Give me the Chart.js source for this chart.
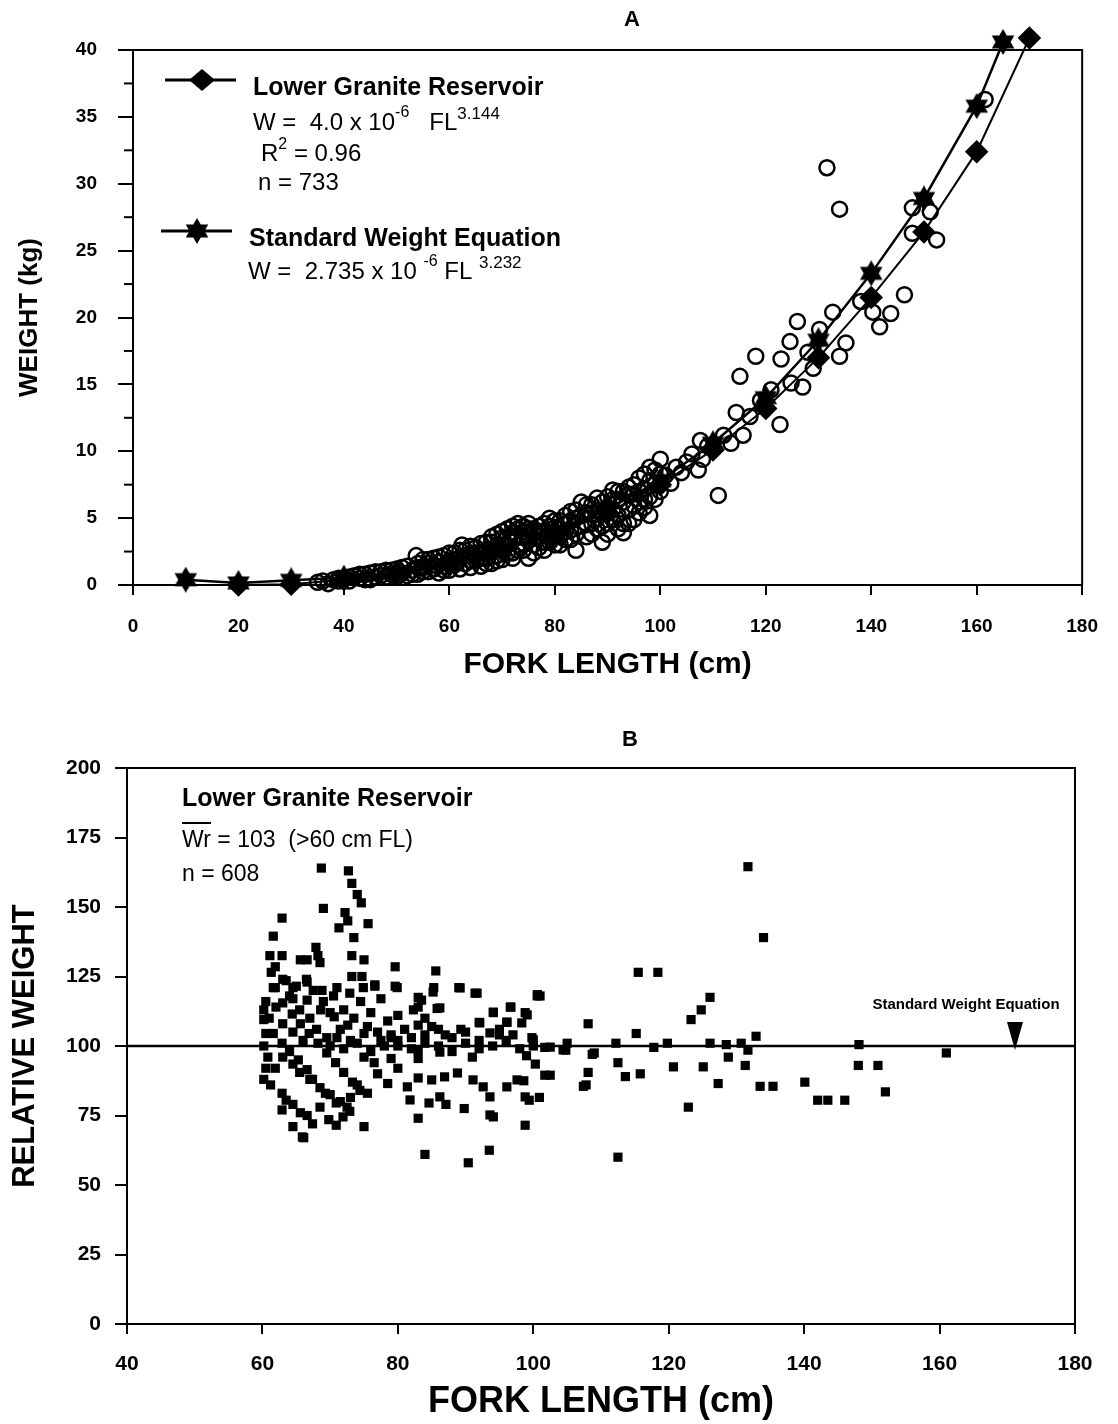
<!DOCTYPE html>
<html>
<head>
<meta charset="utf-8">
<script src="https://cdn.jsdelivr.net/npm/chart.js@4.4.0/dist/chart.umd.min.js"></script>
<style>
  body { margin: 0; background: #fff; width: 1118px; height: 1424px; overflow: hidden; position: relative; }
  canvas { position: absolute; left: 0; }
  #chartA { top: 0; }
  #chartB { top: 700px; }
</style>
</head>
<body>
<canvas id="chartA" width="1118" height="700"></canvas>
<canvas id="chartB" width="1118" height="724"></canvas>
<script>
const FONT = '"Liberation Sans", Arial, Helvetica, sans-serif';

// ---- Panel A: weight vs fork length ----
// Lower Granite Reservoir regression (diamonds)
const lgrFL = [20, 30, 40, 50, 60, 70, 80, 90, 100, 110, 120, 130, 140, 150, 160, 170];
const lgrW  = [0, 0.05, 0.4, 0.85, 1.6, 2.6, 3.8, 5.4, 7.5, 10.1, 13.2, 17.0, 21.5, 26.4, 32.4, 40.9];

// Standard weight equation (stars)
const swFL = [10, 20, 30, 40, 50, 60, 70, 80, 90, 100, 110, 120, 130, 140, 150, 160, 165];
const swW  = [0.4, 0.15, 0.35, 0.55, 0.9, 1.5, 2.6, 3.9, 5.7, 7.8, 10.6, 14.0, 18.3, 23.3, 28.9, 35.8, 40.6];

// observed fish (open circles)
const obsFL = [
  35, 37, 38, 39, 40, 41, 42, 43, 44, 45,
  45, 46, 47, 48, 48, 49, 50, 50, 51, 52,
  52, 53, 53.7, 54, 54, 55, 55, 56, 56, 57,
  57, 58, 58, 59, 59, 60, 60, 61, 61, 62,
  62.4, 63, 63, 64, 64, 65, 65, 66, 66, 67,
  67, 68, 68, 68, 69, 69, 70, 70, 70, 71,
  71, 72, 72, 72, 73, 73, 74, 74, 74, 75,
  75, 75, 76, 76, 77, 77, 78, 78, 79, 79,
  80, 80, 81, 81, 82, 82, 83, 83, 84, 84,
  85, 85, 86, 86, 87, 87, 88, 88, 89, 89,
  90, 90, 91, 91, 92, 92, 93, 93, 94, 94,
  95, 95, 96, 96, 97, 97, 98, 98, 99, 99,
  100, 100, 101, 102, 103, 104, 105, 106, 107.2, 107.6,
  108, 109, 110, 111, 112, 113.4, 114.4, 115.7, 115.1, 117,
  118.1, 119, 121, 122.7, 122.9, 124.6, 124.8, 126, 127, 128,
  129, 130.2, 131.6, 132.7, 134, 134, 135.2, 138, 140.3, 141.6,
  143.7, 146.3, 147.8, 147.8, 151.2, 152.4, 161.6,
  36, 39, 41, 43, 44, 46, 47, 49, 51, 53,
  54, 55, 56, 57, 58, 59, 60, 61, 62, 62,
  63, 64, 64, 65, 66, 66, 67, 67, 68, 69,
  69, 70, 70, 71, 71, 72, 72, 73, 73, 74,
  74, 75, 75, 76, 76, 77, 77, 78, 78, 79,
  79, 80, 80, 81, 81, 82, 82, 83, 83, 84,
  84, 85, 86, 86, 87, 87, 88, 88, 89, 89,
  90, 90, 91, 91, 92, 92, 93, 93, 94, 94,
  95, 95, 96, 96, 97, 97, 98, 98, 99, 100
];
const obsW = [
  0.2, 0.1, 0.4, 0.3, 0.5, 0.3, 0.7, 0.5, 0.8, 0.4,
  0.9, 0.6, 1.0, 0.6, 1.1, 0.8, 1.2, 0.6, 0.9, 1.4,
  0.7, 1.1, 2.2, 1.6, 0.8, 1.3, 1.9, 1.0, 1.6, 2.0,
  1.2, 1.7, 0.9, 2.2, 1.4, 1.8, 1.1, 2.4, 1.5, 2.0,
  3.0, 1.6, 2.6, 2.2, 1.3, 2.8, 1.8, 2.4, 1.4, 3.2,
  2.0, 3.6, 2.6, 1.6, 3.0, 2.2, 3.5, 2.6, 1.9, 4.2,
  3.0, 4.4, 3.4, 2.4, 4.6, 3.0, 4.4, 3.6, 2.6, 4.6,
  3.3, 2.0, 4.2, 3.0, 4.4, 3.6, 4.6, 3.2, 5.0, 3.8,
  4.3, 3.0, 4.8, 3.6, 5.2, 4.0, 5.5, 3.4, 5.0, 2.6,
  6.2, 4.4, 5.4, 3.6, 6.0, 4.6, 6.5, 5.0, 5.4, 3.2,
  6.6, 4.6, 7.1, 5.6, 6.4, 4.2, 7.0, 3.9, 7.3, 5.6,
  6.8, 4.9, 8.0, 6.2, 7.2, 5.8, 7.8, 5.2, 8.6, 6.4,
  9.4, 7.0, 8.2, 7.6, 8.8, 8.4, 9.2, 9.8, 8.6, 10.8,
  9.4, 10.4, 10.2, 6.7, 11.2, 10.6, 12.9, 11.2, 15.6, 12.6,
  17.1, 13.8, 14.6, 12.0, 16.9, 18.2, 15.1, 19.7, 14.8, 17.4,
  16.2, 19.1, 31.2, 20.4, 17.1, 28.1, 18.1, 21.2, 20.4, 19.3,
  20.3, 21.7, 28.2, 26.3, 27.9, 25.8, 36.3,
  0.3, 0.5, 0.6, 0.8, 0.4, 1.0, 0.7, 1.1, 1.3, 0.8,
  1.3, 1.0, 1.9, 1.5, 2.1, 1.1, 2.4, 1.9, 1.2, 2.6,
  2.2, 2.9, 1.8, 2.4, 3.1, 2.0, 2.6, 1.6, 3.2, 3.8,
  1.8, 4.0, 3.0, 2.4, 3.6, 3.9, 2.0, 4.2, 2.6, 4.0,
  3.1, 4.2, 3.7, 3.5, 2.4, 4.0, 2.8, 4.0, 2.6, 4.4,
  3.2, 4.8, 3.6, 4.2, 3.0, 4.6, 3.4, 4.8, 4.1, 5.6,
  3.8, 5.2, 6.0, 4.5, 5.3, 3.8, 5.6, 4.2, 6.2, 4.4,
  5.8, 3.8, 6.4, 4.9, 7.0, 5.2, 6.2, 4.6, 6.8, 4.6,
  7.5, 5.9, 7.0, 5.4, 8.3, 6.4, 8.8, 6.6, 7.6, 8.3
];

// ---- Panel B: relative weight vs fork length ----
const relFL = [
  // high values
  68.7, 72.7, 73.2, 74, 74.6, 69, 72.2, 72.6, 75.6, 71.3,
  62.9, 61.6, 73.5, 61.1, 62.9, 65.6, 66.6, 67.9, 68.2, 68.5,
  73.2, 75, 79.6, 85.6, 61.3, 61.9, 73.2, 74.7, 76.6, 79.6,
  85.3, 89, 91.4, 100.6, 96.7, 94.1, 98.8, 96.1, 83, 83,
  85.8, 89.3, 92, 99.8, 61.9, 63.5, 60.2, 60.2, 60.5, 64.5,
  65, 66.5,
  // larger fish
  131.7, 134, 115.5, 118.4, 101, 126.1, 124.8, 123.3, 108.1, 115.2,
  132.9, 112.2, 119.8, 126.1, 128.5, 130.7, 148.1, 104.8, 109, 117.8,
  161, 131.7, 128.8, 101.7, 108.7, 101.7, 108.1, 107.4, 112.5, 113.6,
  115.8, 120.7, 125.1, 127.3, 131.3, 133.5, 135.4, 140.1, 148, 150.9,
  152, 142, 143.5, 146, 122.9, 112.5, 105,
  // low values
  60.2, 61.9, 62.9, 63.5, 62.9, 64.5, 65.6, 64.5, 66.1, 66.6,
  69.8, 70.9, 71.9, 72.9, 75, 69.3, 70.9, 73, 83, 84,
  84.6, 87.1, 89.8, 90.4, 93.5, 94.1, 98.8, 99.4, 100.9, 98.6,
  100.3, 102.5, 107.8, 81.4, 83, 85, 86.9, 88.8, 81.8, 86.2,
  91.1, 92.6, 93.6, 96.1, 97.6, 98.8, 93.6, 65.9, 60.5, 61.2,
  67.4, 68.5, 63, 64.5, 65.5, 67, 68.5, 70, 71.5, 72.5,
  74, 75.5, 77, 78.5, 80, 76.5, 79,
  // dense band
  61.6, 63, 64.5, 66.6, 68.8, 71, 72.9, 74.9, 76.6, 79.9,
  85.2, 89.2, 91.7, 100.6, 83.5, 86.2, 63, 64.4, 65.6, 66.9,
  68.2, 69.5, 70.8, 72, 73.3, 74.4, 61.6, 62.9, 64, 65.3,
  66.6, 67.4, 66.6, 68.6, 70.6, 72.6, 75, 77.5, 80, 83,
  86.2, 70, 72, 74, 76, 78, 80, 82, 84, 86,
  88, 90, 92, 94, 96, 98, 100, 71, 75, 79,
  83, 87, 91, 95, 99, 96.6, 94.1, 92.1, 93.6, 96.1,
  99.1, 98.3, 100, 102.5, 104.4, 82.3, 84, 85, 83, 60.5,
  61, 62, 63, 64, 64.5, 65.5, 66, 67, 67.5, 68,
  69, 69.5, 70, 70.5, 71.5, 72, 73, 73.5, 74.5, 75.5,
  76, 77, 77.5, 78.5, 79, 80, 81, 82, 84, 86,
  88, 90, 92, 95, 97, 60.2, 60.8
];
const relW = [
  164, 163, 158.5, 154.5, 151.5, 149.5, 148, 145, 144, 142.5,
  146, 139.5, 139, 132.5, 132.5, 131, 131, 135.5, 132.5, 130,
  132.5, 131, 128.5, 127, 126.5, 128.5, 125, 125, 121.5, 121.5,
  121, 121, 119, 118.5, 114, 112, 112, 108.5, 117.5, 114,
  113.5, 106, 108.5, 103, 121, 123.5, 113, 109.5, 104.5, 117,
  121.5, 124,

  164.5, 139, 126.5, 126.5, 118, 117.5, 113, 109.5, 108, 104.5,
  103.5, 101, 101, 101, 100.5, 101, 100.5, 98.5, 97.5, 99.5,
  97.5, 98.5, 96, 99.5, 97, 89.5, 90.5, 85.5, 94, 89,
  90, 92.5, 92.5, 86.5, 93, 85.5, 85.5, 87, 93, 93,
  83.5, 80.5, 80.5, 80.5, 78, 60, 101,

  88, 92, 83, 80.5, 77, 79, 76, 71, 67, 75,
  73.5, 71.5, 74.5, 76.5, 71, 83, 79.5, 81.5, 74, 61,
  79.5, 79, 77.5, 58, 62.5, 74.5, 71.5, 80.5, 81.5, 87.5,
  93.5, 89.5, 86, 85.3, 88.5, 87.8, 88.9, 90.3, 80.6, 81.7,
  87.8, 85.3, 81.7, 85.3, 87.8, 81.7, 75.2, 67.3, 92, 86,
  72, 78, 96, 93.5, 90.5, 88, 85, 82.5, 80, 78,
  86, 83, 90, 86.5, 92, 94, 95.5,

  121, 124, 121, 123, 120, 121, 119, 121, 122, 121,
  119.4, 120.9, 119, 118, 116.5, 113.7, 115.5, 111.5, 108, 104.5,
  101, 97.5, 94, 90.5, 87, 84, 104.5, 101, 98, 95,
  91.5, 88, 116.5, 113, 110.5, 107.5, 104.5, 102, 100, 98.5,
  97.8, 100, 99, 101, 98, 100, 102, 99, 101, 100,
  98, 101, 99, 100, 102, 99, 100, 103, 96, 104,
  95.5, 104, 96, 104, 96.5, 114, 112.2, 108.3, 104.7, 108.6,
  111.2, 108.3, 102.2, 99.6, 98.6, 113, 110, 107, 107.5, 116,
  110, 114, 108, 118, 105, 113, 102, 110, 120, 106,
  116, 103, 112, 118, 106, 113, 102, 110, 116, 107,
  112, 105, 117, 109, 103, 111, 106, 103, 104, 106,
  103, 105, 102, 106, 104, 100, 96
];

// standard weight reference line (Wr = 100)
const stdFL = [40, 180];
const stdW = [100, 100];

function pts(xs, ys) {
  return xs.map((x, i) => ({ x: x, y: ys[i] }));
}

// six pointed star marker
function makeStar(size) {
  const c = document.createElement('canvas');
  c.width = size; c.height = size;
  const g = c.getContext('2d');
  const r = size / 2;
  g.fillStyle = '#000';
  g.beginPath();
  for (let i = 0; i < 12; i++) {
    const a = Math.PI / 6 * i - Math.PI / 2;
    const rr = i % 2 ? r * 0.58 : r;
    g.lineTo(r + rr * Math.cos(a), r + rr * Math.sin(a));
  }
  g.closePath();
  g.fill();
  return c;
}
const starImg = makeStar(26);

// writes pieces of text one after another: [text, size, rise, bold]
function textRuns(ctx, x, y, parts) {
  ctx.textAlign = 'left';
  ctx.textBaseline = 'middle';
  for (const [t, size, rise, bold] of parts) {
    ctx.font = (bold ? 'bold ' : '') + size + 'px ' + FONT;
    ctx.fillText(t, x, y - (rise || 0));
    x += ctx.measureText(t).width;
  }
  return x;
}

function axisStyle(opts) {
  return {
    type: 'linear',
    min: opts.min,
    max: opts.max,
    ticks: {
      stepSize: opts.step,
      color: '#000',
      padding: opts.pad,
      maxRotation: 0,
      font: { family: FONT, size: opts.tickSize, weight: 'bold' }
    },
    grid: { drawOnChartArea: false, tickLength: opts.tickLen, color: '#000', lineWidth: 2 },
    border: { display: true, color: '#000', width: 2 },
    title: {
      display: true,
      text: opts.title,
      color: '#000',
      font: { family: FONT, size: opts.titleSize, weight: 'bold' },
      padding: opts.titlePad
    },
    afterFit: opts.fit
  };
}

// frame, minor ticks, legend and notes for panel A
const panelA = {
  id: 'panelA',
  afterDraw(chart) {
    const { ctx, chartArea: a, scales } = chart;
    ctx.save();
    ctx.strokeStyle = '#000';
    ctx.lineWidth = 2;
    ctx.strokeRect(a.left, a.top, a.right - a.left, a.bottom - a.top);
    for (let v = 2.5; v < 40; v += 5) {
      const py = scales.y.getPixelForValue(v);
      ctx.beginPath(); ctx.moveTo(a.left - 9, py); ctx.lineTo(a.left, py); ctx.stroke();
    }
    ctx.fillStyle = '#000';
    ctx.textAlign = 'center';
    ctx.textBaseline = 'middle';
    ctx.font = 'bold 22px ' + FONT;
    ctx.fillText('A', 632, 20);

    // legend: diamond
    ctx.lineWidth = 3;
    ctx.beginPath(); ctx.moveTo(165, 80); ctx.lineTo(236, 80); ctx.stroke();
    ctx.beginPath();
    ctx.moveTo(189, 80); ctx.lineTo(202, 69); ctx.lineTo(215, 80); ctx.lineTo(202, 91);
    ctx.closePath(); ctx.fill();
    textRuns(ctx, 253, 88, [['Lower Granite Reservoir', 25, 0, true]]);
    textRuns(ctx, 253, 123, [['W =  4.0 x 10', 24], ['-6', 16, 10], ['   FL', 24], ['3.144', 17, 9]]);
    textRuns(ctx, 261, 154, [['R', 24], ['2', 16, 9], [' = 0.96', 24]]);
    textRuns(ctx, 258, 183, [['n = 733', 24]]);

    // legend: star
    ctx.beginPath(); ctx.moveTo(161, 231); ctx.lineTo(232, 231); ctx.stroke();
    ctx.drawImage(starImg, 197 - 13, 231 - 13);
    textRuns(ctx, 249, 239, [['Standard Weight Equation', 25, 0, true]]);
    textRuns(ctx, 248, 272, [['W =  2.735 x 10 ', 24], ['-6', 16, 10], [' FL ', 24], ['3.232', 17, 9]]);
    ctx.restore();
  }
};

// frame and notes for panel B
const panelB = {
  id: 'panelB',
  afterDraw(chart) {
    const { ctx, chartArea: a } = chart;
    ctx.save();
    ctx.strokeStyle = '#000';
    ctx.lineWidth = 2;
    ctx.strokeRect(a.left, a.top, a.right - a.left, a.bottom - a.top);
    ctx.fillStyle = '#000';
    ctx.textAlign = 'center';
    ctx.textBaseline = 'middle';
    ctx.font = 'bold 22px ' + FONT;
    ctx.fillText('B', 630, 40);

    textRuns(ctx, 182, 99, [['Lower Granite Reservoir', 25, 0, true]]);
    const wrEnd = textRuns(ctx, 182, 141, [['Wr', 23]]);
    textRuns(ctx, wrEnd, 141, [[' = 103  (>60 cm FL)', 23]]);
    ctx.lineWidth = 2;
    ctx.beginPath(); ctx.moveTo(182, 123); ctx.lineTo(wrEnd, 123); ctx.stroke();
    textRuns(ctx, 182, 175, [['n = 608', 23]]);

    ctx.textAlign = 'center';
    ctx.font = 'bold 15px ' + FONT;
    ctx.fillText('Standard Weight Equation', 966, 305);
    ctx.beginPath();
    ctx.moveTo(1007, 322); ctx.lineTo(1023, 322); ctx.lineTo(1015, 350);
    ctx.closePath(); ctx.fill();
    ctx.restore();
  }
};

Chart.defaults.font.family = FONT;
Chart.defaults.color = '#000';

new Chart(document.getElementById('chartA'), {
  type: 'scatter',
  data: {
    datasets: [
      {
        label: 'Observed',
        data: pts(obsFL, obsW),
        pointStyle: 'circle',
        pointRadius: 7.5,
        pointBorderWidth: 2.5,
        pointBackgroundColor: 'rgba(255,255,255,0)',
        pointBorderColor: '#000',
        clip: false,
        order: 3
      },
      {
        label: 'Lower Granite Reservoir',
        data: pts(lgrFL, lgrW),
        showLine: true,
        borderColor: '#000',
        borderWidth: 2,
        pointStyle: 'rectRot',
        pointRadius: 10,
        pointBackgroundColor: '#000',
        pointBorderColor: '#000',
        pointBorderWidth: 2.5,
        clip: false,
        order: 2
      },
      {
        label: 'Standard Weight Equation',
        data: pts(swFL, swW),
        showLine: true,
        borderColor: '#000',
        borderWidth: 2.5,
        pointStyle: starImg,
        pointRadius: 13,
        clip: false,
        order: 1
      }
    ]
  },
  options: {
    responsive: false,
    devicePixelRatio: 1,
    animation: false,
    layout: { padding: { top: 50, right: 33, bottom: 17, left: 0 } },
    plugins: { legend: { display: false }, tooltip: { enabled: false } },
    scales: {
      x: axisStyle({ min: 0, max: 180, step: 20, pad: 20, tickSize: 19, tickLen: 10,
        title: 'FORK LENGTH (cm)', titleSize: 30, titlePad: { top: 0, bottom: 0 },
        fit: s => { s.height = 98; } }),
      y: axisStyle({ min: 0, max: 40, step: 5, pad: 21, tickSize: 19, tickLen: 15,
        title: 'WEIGHT (kg)', titleSize: 26, titlePad: { top: 14, bottom: 0 },
        fit: s => { s.width = 133; } })
    }
  },
  plugins: [panelA]
});

new Chart(document.getElementById('chartB'), {
  type: 'scatter',
  data: {
    datasets: [
      {
        label: 'Standard Weight Equation',
        data: pts(stdFL, stdW),
        showLine: true,
        borderColor: '#000',
        borderWidth: 2.5,
        pointRadius: 0,
        order: 2
      },
      {
        label: 'Lower Granite Reservoir',
        data: pts(relFL, relW),
        pointStyle: 'rect',
        pointRadius: 6.5,
        pointBorderWidth: 0,
        pointBackgroundColor: '#000',
        pointBorderColor: '#000',
        order: 1
      }
    ]
  },
  options: {
    responsive: false,
    devicePixelRatio: 1,
    animation: false,
    layout: { padding: { top: 68, right: 43, bottom: 0, left: 0 } },
    plugins: { legend: { display: false }, tooltip: { enabled: false } },
    scales: {
      x: axisStyle({ min: 40, max: 180, step: 20, pad: 18, tickSize: 21, tickLen: 10,
        title: 'FORK LENGTH (cm)', titleSize: 36, titlePad: { top: 0, bottom: 0 },
        fit: s => { s.height = 100; } }),
      y: axisStyle({ min: 0, max: 200, step: 25, pad: 14, tickSize: 21, tickLen: 12,
        title: 'RELATIVE WEIGHT', titleSize: 31, titlePad: { top: 7, bottom: 0 },
        fit: s => { s.width = 127; } })
    }
  },
  plugins: [panelB]
});
</script>
</body>
</html>
